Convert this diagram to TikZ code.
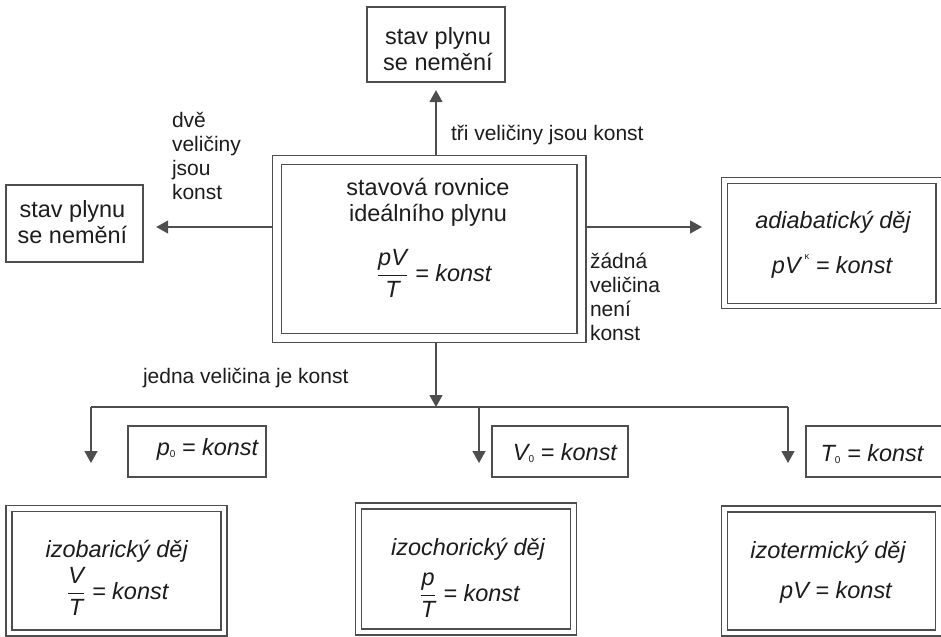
\documentclass[tikz,border=0pt]{standalone}
\usepackage{fontspec}
\setmainfont{Liberation Sans}
\usepackage{amsmath}
\usetikzlibrary{arrows.meta}
\definecolor{ink}{RGB}{78,78,78}
\definecolor{txt}{RGB}{28,28,28}
% fraction with a firm bar and italic text parts
\newcommand\fracit[2]{$\genfrac{}{}{0.9pt}{0}{\mbox{\itshape #1}}{\mbox{\itshape #2}}$}
\newcommand\subnull{\raisebox{-2pt}{\fontsize{7.5}{7.5}\selectfont\upshape 0}}
\newcommand\supkappa{\raisebox{1.1ex}{\fontsize{7}{7}\selectfont\upshape κ}}
\begin{document}
\begin{tikzpicture}[x=0.75pt,y=-0.75pt,
  every node/.style={inner sep=0pt, outer sep=0pt, text=txt},
  bigtxt/.style={font=\fontsize{17.6}{19.5}\selectfont},
  lbl/.style={font=\fontsize{15.75}{18}\selectfont, align=left},
  plainbox/.style={draw=ink, line width=1pt, outer sep=0.5pt},
  dblmain/.style={draw=ink, line width=1pt, double, double distance=5.8pt, outer sep=3.9pt},
  dblside/.style={draw=ink, line width=1pt, double, double distance=3.2pt, outer sep=2.6pt},
  dbllow/.style={draw=ink, line width=1pt, double, double distance=3.5pt, outer sep=2.75pt},
  link/.style={draw=ink, line width=1.1pt},
  arr/.style={link, -{Triangle[length=9pt,width=9.75pt]}}]
\useasboundingbox (0,0) rectangle (941,636);
\clip (0,0) rectangle (941,636);

% boxes
\node[dblmain, minimum width=228.4pt, minimum height=133.5pt] (main) at (429.25,249) {};
\node[plainbox, minimum width=103.5pt, minimum height=56.25pt] (top) at (436,44.5) {};
\node[plainbox, minimum width=102.75pt, minimum height=57.75pt] (left) at (74.5,223.5) {};
\node[dblside, minimum width=160.7pt, minimum height=94.1pt] (adia) at (831.6,243.25) {};
\node[plainbox, minimum width=103.5pt, minimum height=38.25pt] (pbox) at (197,451.5) {};
\node[plainbox, minimum width=102pt, minimum height=38.25pt] (vbox) at (560,451.5) {};
\node[plainbox, minimum width=110pt, minimum height=38.25pt] (tbox) at (879.3,451.5) {};
\node[dbllow, minimum width=161.25pt, minimum height=93.4pt] (izobar) at (116.5,570.75) {};
\node[dbllow, minimum width=161.25pt, minimum height=94.5pt] (izochor) at (466,569) {};
\node[dbllow, minimum width=160.7pt, minimum height=93pt] (izoterm) at (831.6,571) {};

% box texts
\node[bigtxt, align=center, anchor=north] (mainT) at (428,178) {stavová rovnice\\ideálního plynu};
\node[bigtxt] (mainEq) at (434,273.5) {\itshape\fracit{pV}{T} = konst};
\node[bigtxt, align=center, anchor=north] (topT) at (438,27.2) {stav plynu\\se nemění};
\node[bigtxt, align=center, anchor=north] (leftT) at (72.5,200.2) {stav plynu\\se nemění};
\node[bigtxt, anchor=base] (adiaT) at (833,228) {\itshape adiabatický děj};
\node[bigtxt, anchor=base] (adiaEq) at (832,273) {\itshape pV\,\supkappa\ = konst};
\node[bigtxt, anchor=base] (pT) at (207.5,455) {\itshape p\subnull\ = konst};
\node[bigtxt, anchor=base] (vT) at (565,460) {\itshape V\subnull\ = konst};
\node[bigtxt, anchor=base] (tT) at (872,461) {\itshape T\subnull\ = konst};
\node[bigtxt, anchor=base] (izobarT) at (116.7,557) {\itshape izobarický děj};
\node[bigtxt] (izobarEq) at (117.5,591.5) {\itshape\fracit{V}{T} = konst};
\node[bigtxt, anchor=base] (izochorT) at (468,555) {\itshape izochorický děj};
\node[bigtxt] (izochorEq) at (469.5,595) {\itshape\fracit{p}{T} = konst};
\node[bigtxt, anchor=base] (izotermT) at (828,558) {\itshape izotermický děj};
\node[bigtxt, anchor=base] (izotermEq) at (836,598) {\itshape pV = konst};

% connector labels
\node[lbl, anchor=north west] (lblTwo) at (172,112) {dvě\\veličiny\\jsou\\konst};
\node[lbl, anchor=base west] (lblThree) at (451,140) {tři veličiny jsou konst};
\node[lbl, anchor=north west] (lblNone) at (590,253) {žádná\\veličina\\není\\konst};
\node[lbl, anchor=base west] (lblOne) at (143,383) {jedna veličina je konst};

% connectors
\coordinate (hub) at (436,407);
\coordinate (fl) at (91,407);
\coordinate (fr) at (788,407);
\coordinate (d1) at (91,463);
\coordinate (d2) at (479,463);
\coordinate (d3) at (788,463);

\draw[arr, shorten >=5.6pt] (main.north -| top.south) -- (top.south);
\draw[arr, shorten >=9.4pt] ([yshift=16.5pt]main.west) -- ([yshift=16.5pt]main.west -| left.east);
\draw[arr, shorten >=14.25pt] ([yshift=16.5pt]main.east) -- ([yshift=16.5pt]main.east -| adia.west);
\draw[arr] (main.south -| hub) -- (hub);
\draw[link] (fl) -- (fr);
\draw[arr] (fl) -- (d1);
\draw[arr] (d2 |- fl) -- (d2);
\draw[arr] (fr) -- (d3);
\end{tikzpicture}
\end{document}
